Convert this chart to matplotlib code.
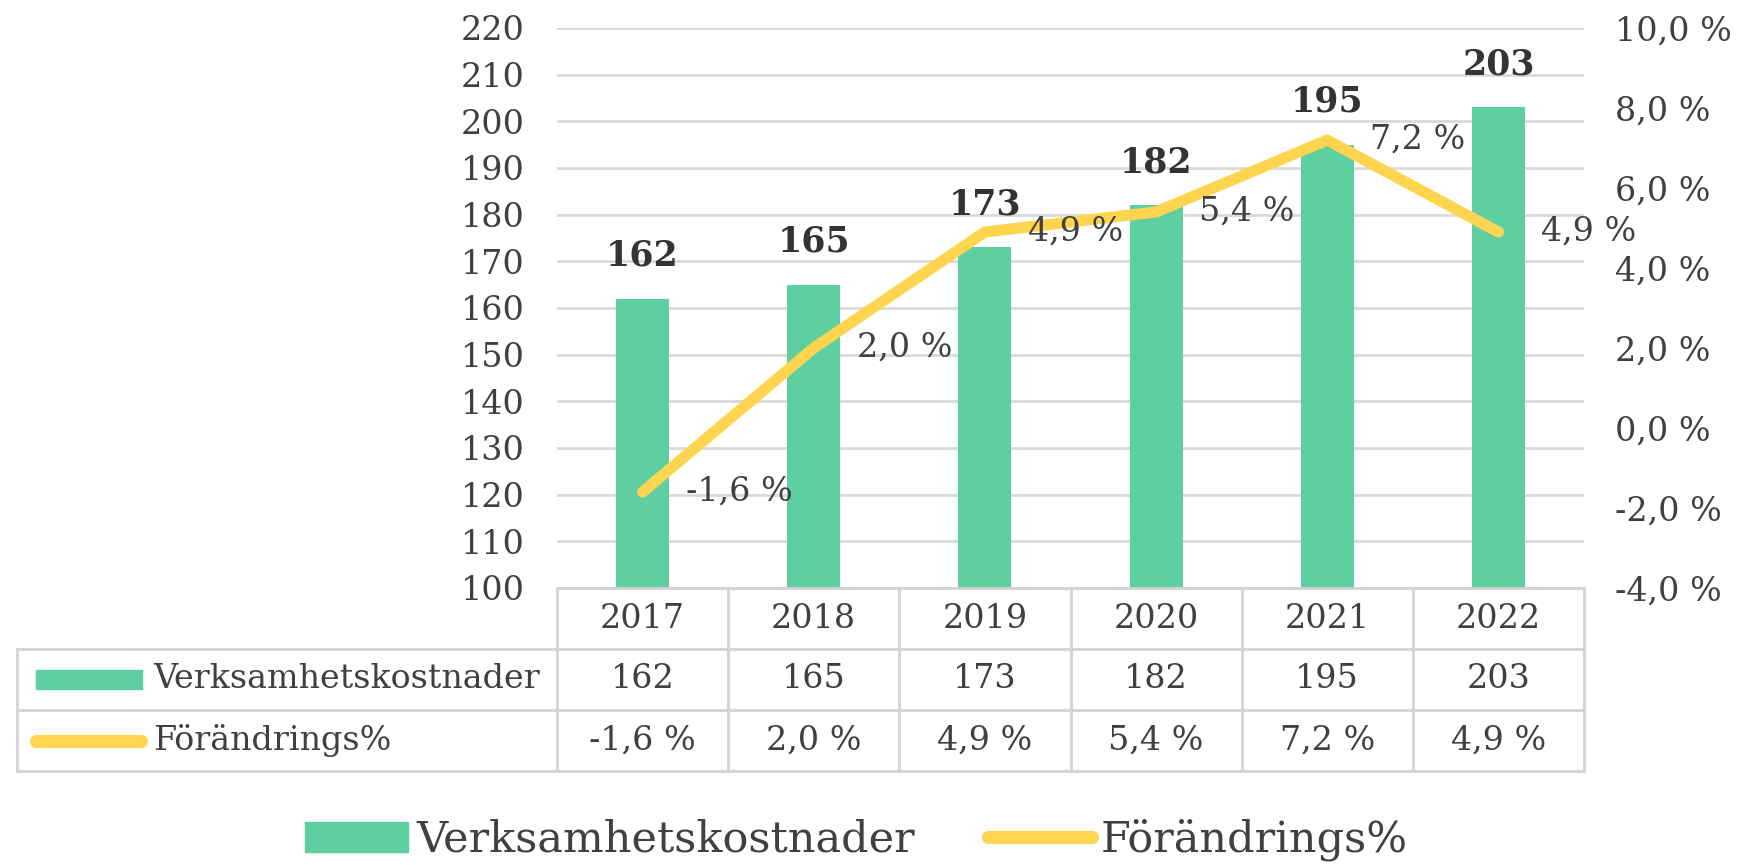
import matplotlib
matplotlib.use("Agg")
import matplotlib.pyplot as plt
from matplotlib.patches import Rectangle
from matplotlib.lines import Line2D
from matplotlib.transforms import blended_transform_factory

years = ["2017", "2018", "2019", "2020", "2021", "2022"]
costs = [162, 165, 173, 182, 195, 203]
change = [-1.6, 2.0, 4.9, 5.4, 7.2, 4.9]
left_ticks = list(range(100, 221, 10))
right_ticks = [-4, -2, 0, 2, 4, 6, 8, 10]
bar_name = "Verksamhetskostnader"
line_name = "Förändrings%"

green = "#5ECFA1"
yellow = "#FFD54F"
txt = "#404040"
grid_c = "#D9D9D9"


def pct(v):
    return f"{v:.1f}".replace(".", ",") + " %"


plt.rcParams["font.family"] = "DejaVu Serif"
fs = 24

W, H = 1740, 865
fig = plt.figure(figsize=(W / 100, H / 100), dpi=100)
# axes box in pixels: left 557, right 1584, top 28, bottom 588
ax = fig.add_axes([557 / W, 1 - 588 / H, 1027 / W, 560 / H])
xs = list(range(len(years)))

ax.bar(xs, costs, width=0.31, color=green, zorder=2)
ax.set_xlim(-0.5, 5.5)
ax.set_ylim(100, 220)
ax.set_yticks(left_ticks)
ax.set_xticks([])
ax.yaxis.grid(True, color=grid_c, lw=2)
ax.set_axisbelow(True)
for s in ax.spines.values():
    s.set_visible(False)
ax.tick_params(axis="y", length=0, pad=23, labelsize=fs, labelcolor=txt)

for i, c in zip(xs, costs):
    ax.annotate(str(c), (i, c), xytext=(0, 31), textcoords="offset points",
                ha="center", va="center", fontsize=25, fontweight="bold", color="#333333")

ax2 = ax.twinx()
ax2.plot(xs, change, color=yellow, lw=8, solid_capstyle="round",
         solid_joinstyle="round", zorder=3)
ax2.set_ylim(-4, 10)
ax2.set_yticks(right_ticks)
ax2.set_yticklabels([pct(v) for v in right_ticks])
for s in ax2.spines.values():
    s.set_visible(False)
ax2.tick_params(axis="y", length=0, pad=22, labelsize=fs, labelcolor=txt)

for i, v in zip(xs, change):
    ax2.annotate(pct(v), (i, v), xytext=(31, 0), textcoords="offset points",
                 ha="left", va="center", fontsize=fs, color=txt)

# data table under the axes
tr = blended_transform_factory(ax.transData, ax.transAxes)
rows = [0, -61 / 560, -122 / 560, -183 / 560]
xl = (17 - 557) / 1027
line_kw = dict(color="#D3D3D3", lw=2, clip_on=False)

ax.plot([-0.5, 5.5], [rows[0], rows[0]], transform=tr, **line_kw)
for r in rows[1:]:
    ax.add_line(Line2D([xl, 1], [r, r], transform=ax.transAxes, **line_kw))
for k in range(len(years) + 1):
    ax.plot([k - 0.5, k - 0.5], [rows[0], rows[3]], transform=tr, **line_kw)
ax.add_line(Line2D([xl, xl], [rows[1], rows[3]], transform=ax.transAxes, **line_kw))

for i in xs:
    ax.text(i, (rows[0] + rows[1]) / 2, years[i], transform=tr, ha="center",
            va="center", fontsize=fs, color=txt)
    ax.text(i, (rows[1] + rows[2]) / 2, str(costs[i]), transform=tr, ha="center",
            va="center", fontsize=fs, color=txt)
    ax.text(i, (rows[2] + rows[3]) / 2, pct(change[i]), transform=tr, ha="center",
            va="center", fontsize=fs, color=txt)

y1 = (rows[1] + rows[2]) / 2
y2 = (rows[2] + rows[3]) / 2
ax.add_patch(Rectangle(((36 - 557) / 1027, y1 - 9.5 / 560), 106 / 1027, 19 / 560,
                       transform=ax.transAxes, color=green, clip_on=False))
ax.add_line(Line2D([(36 - 557) / 1027, (141 - 557) / 1027], [y2, y2],
                   transform=ax.transAxes, color=yellow, lw=9.4,
                   solid_capstyle="round", clip_on=False))
ax.text((153 - 557) / 1027, y1, bar_name, transform=ax.transAxes, ha="left",
        va="center", fontsize=fs, color=txt)
ax.text((153 - 557) / 1027, y2, line_name, transform=ax.transAxes, ha="left",
        va="center", fontsize=fs, color=txt)

handles = [Rectangle((0, 0), 1, 1, color=green),
           Line2D([], [], color=yellow, lw=9.4, solid_capstyle="round")]
fig.legend(handles, [bar_name, line_name], loc="center",
           bbox_to_anchor=(856 / W, 1 - 840 / H), ncol=2, frameon=False,
           fontsize=31, handlelength=2.4, handletextpad=0.2, columnspacing=1.7,
           labelcolor=txt)

fig.savefig("out.png", dpi=100)
